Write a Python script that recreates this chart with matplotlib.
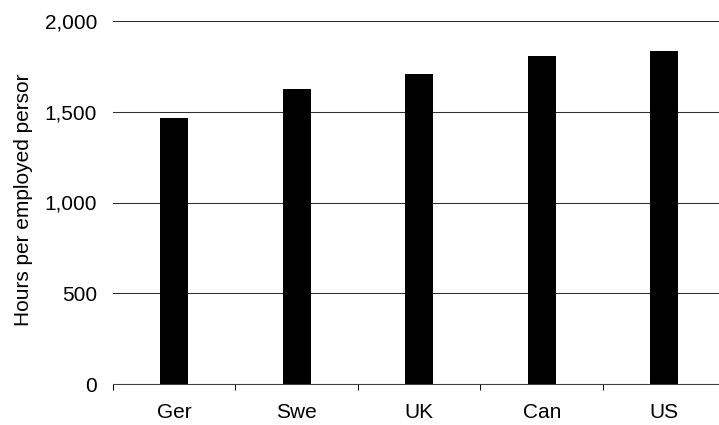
import matplotlib
matplotlib.use("Agg")
import matplotlib.pyplot as plt
from matplotlib.ticker import FuncFormatter, FixedLocator

countries = ["Ger", "Swe", "UK", "Can", "US"]
hours = [1467, 1627, 1709, 1809, 1836]
y_ticks = [0, 500, 1000, 1500, 2000]
y_label = "Hours per employed persor"

plt.rcParams['font.family'] = ['Liberation Sans', 'DejaVu Sans']

fig = plt.figure(figsize=(7.19, 4.25), dpi=100)
ax = fig.add_axes([113/719, 41/425, 612.5/719, 363/425])

x = list(range(len(countries)))
ax.bar(x, hours, width=0.23, color="black", zorder=3)

ax.set_xlim(-0.5, len(countries) - 0.5)
ax.set_ylim(0, 2000)
ax.set_yticks(y_ticks)
ax.yaxis.set_major_formatter(FuncFormatter(lambda v, p: f"{int(v):,}"))
ax.grid(axis="y", color="#303030", linewidth=0.75, zorder=0)
ax.tick_params(axis="y", length=0, pad=11.5, labelsize=15)

ax.xaxis.set_major_locator(FixedLocator([i - 0.5 for i in range(len(countries) + 1)]))
ax.xaxis.set_minor_locator(FixedLocator(x))
ax.set_xticklabels([], minor=False)
ax.set_xticklabels(countries, minor=True)
ax.tick_params(axis="x", which="major", length=4, width=0.75, color="black", direction="out")
ax.tick_params(axis="x", which="minor", length=0, pad=14, labelsize=15)

for s in ["top", "right", "left"]:
    ax.spines[s].set_visible(False)
ax.spines["bottom"].set_color("#404040")
ax.spines["bottom"].set_linewidth(0.75)

fig.text(24/719, 1 - 200/425, y_label, rotation=90, ha="center", va="center", fontsize=15)

fig.savefig("out.png", dpi=100)
